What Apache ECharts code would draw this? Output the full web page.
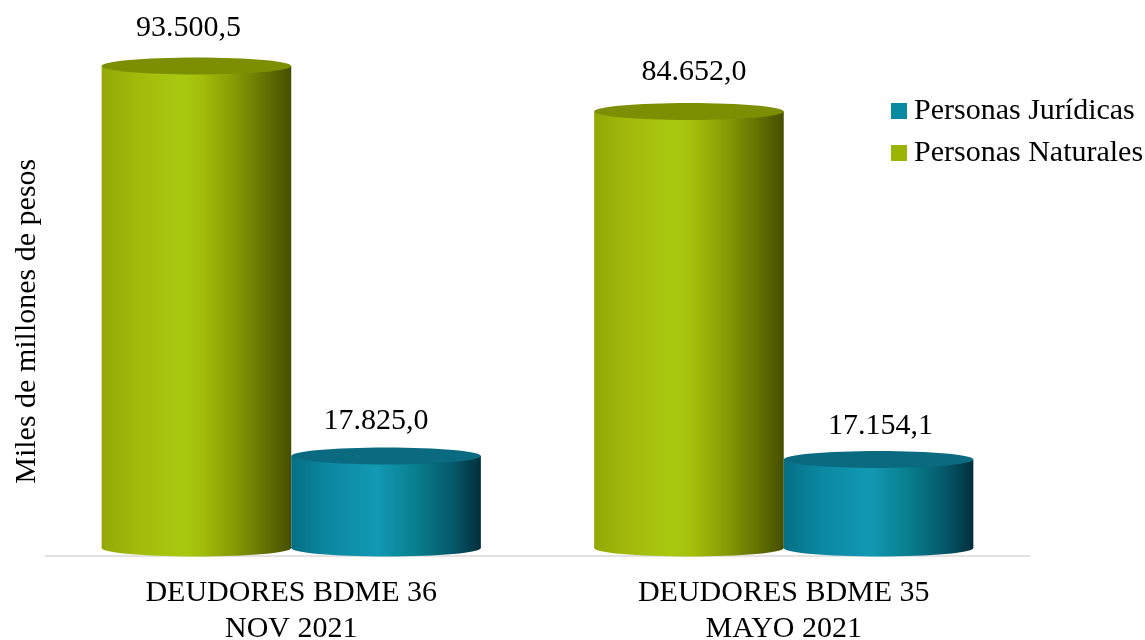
<!DOCTYPE html>
<html>
<head>
<meta charset="utf-8">
<style>html,body{margin:0;padding:0;background:#fff}#c{width:1145px;height:640px}</style>
<script src="https://cdn.jsdelivr.net/npm/echarts@6/dist/echarts.min.js"></script>
</head>
<body>
<div id="c"></div>
<script>
const categories = ['DEUDORES BDME 36\nNOV 2021', 'DEUDORES BDME 35\nMAYO 2021'];
const personasNaturales = [93500.5, 84652.0];
const personasJuridicas = [17825.0, 17154.1];
const axisName = 'Miles de millones de pesos';
const FONT = '"Liberation Serif", "Times New Roman", serif';

function fmt(v) {
  const [a, b] = v.toFixed(1).split('.');
  return a.replace(/\B(?=(\d{3})+$)/g, '.') + ',' + b;
}
function grad(stops) {
  return { type: 'linear', x: 0, y: 0, x2: 1, y2: 0,
    colorStops: stops.map(s => ({ offset: s[0], color: s[1] })) };
}
const greenBody = grad([[0,'#93a806'],[0.18,'#a1ba0b'],[0.42,'#a9c910'],[0.52,'#a3bf0a'],[0.7,'#869a04'],[0.85,'#667502'],[1,'#464f00']]);
const tealBody = grad([[0,'#056f85'],[0.2,'#0b88a2'],[0.45,'#1299b4'],[0.65,'#08808f'],[0.85,'#05586a'],[1,'#032f3c']]);

function cylinder(side, body, cap, labelGaps, nudge) {
  return function (params, api) {
    const i = api.value(0);
    const base = api.coord([i, 0]);
    const top = api.coord([i, api.value(1)]);
    const band = api.size([1, 0])[0];
    const w = band * 0.385;
    const x = side < 0 ? base[0] - w : base[0];
    const cx = x + w / 2;
    const rx = w / 2, ry = 8.5;
    return {
      type: 'group',
      children: [
        { type: 'ellipse', shape: { cx, cy: base[1], rx, ry }, style: { fill: body } },
        { type: 'rect', shape: { x, y: top[1], width: w, height: base[1] - top[1] }, style: { fill: body } },
        { type: 'ellipse', shape: { cx, cy: top[1], rx, ry }, style: { fill: cap } },
        { type: 'text', x: cx + nudge[i], y: top[1] - labelGaps[i],
          style: { text: fmt(api.value(1)), font: '30px ' + FONT, fill: '#000', align: 'center', verticalAlign: 'middle' } }
      ]
    };
  };
}

const chart = echarts.init(document.getElementById('c'), null, { renderer: 'canvas' });
chart.setOption({
  animation: false,
  backgroundColor: '#fff',
  grid: { left: 45, right: 115, top: 32.5, bottom: 92, containLabel: false, outerBoundsMode: 'none' },
  legend: {
    orient: 'vertical', left: 886, top: 89, itemWidth: 16, itemHeight: 16, itemGap: 8,
    icon: 'rect', selectedMode: false,
    data: ['Personas Jurídicas', 'Personas Naturales'],
    textStyle: { fontFamily: FONT, fontSize: 30, color: '#000', lineHeight: 34, padding: [0, 0, 0, 2] }
  },
  xAxis: {
    type: 'category', data: categories, offset: 8,
    axisLine: { show: true, onZero: false, lineStyle: { color: '#d9d9d9', width: 1.5 } },
    axisTick: { show: false },
    axisLabel: { color: '#000', fontFamily: FONT, fontSize: 30, lineHeight: 36, margin: 19, interval: 0 }
  },
  yAxis: {
    type: 'value', min: 0, max: 100000, interval: 20000,
    name: axisName, nameLocation: 'middle', nameGap: 3, nameRotate: 90,
    nameTextStyle: { color: '#000', fontFamily: FONT, fontSize: 30, padding: [0, 62, 0, 0] },
    axisLine: { show: false }, axisTick: { show: false }, axisLabel: { show: false }, splitLine: { show: false }
  },
  series: [
    { name: 'Personas Naturales', type: 'custom', coordinateSystem: 'cartesian2d', silent: true,
      itemStyle: { color: '#9bb507' }, encode: { x: 0, y: 1 },
      data: personasNaturales.map((v, i) => [i, v]),
      renderItem: cylinder(-1, greenBody, '#7c8f02', [38, 39], [-8, 5]) },
    { name: 'Personas Jurídicas', type: 'custom', coordinateSystem: 'cartesian2d', silent: true,
      itemStyle: { color: '#0a89a3' }, encode: { x: 0, y: 1 },
      data: personasJuridicas.map((v, i) => [i, v]),
      renderItem: cylinder(1, tealBody, '#0a6b80', [35, 33], [-10, 2]) }
  ]
});
</script>
</body>
</html>
